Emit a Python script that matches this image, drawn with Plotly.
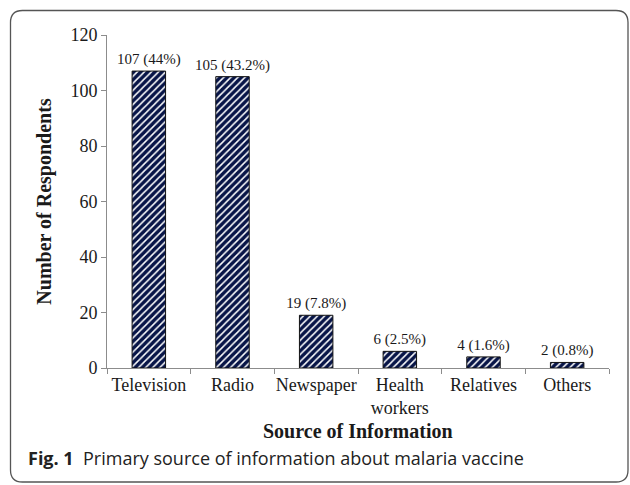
import plotly.graph_objects as go

categories = ["Television", "Radio", "Newspaper", "Health<br>workers", "Relatives", "Others"]
counts = [107, 105, 19, 6, 4, 2]
percents = ["44%", "43.2%", "7.8%", "2.5%", "1.6%", "0.8%"]
y_ticks = [0, 20, 40, 60, 80, 100, 120]

W, H = 630, 485
ML, MR, MT, MB = 107, 21, 35, 117
PW, PH = W - ML - MR, H - MT - MB

def px(x):
    return (x - ML) / PW

def py(y):
    return (H - MB - y) / PH

labels = [f"{c} ({p})" for c, p in zip(counts, percents)]

fig = go.Figure()
fig.add_trace(go.Bar(
    x=categories, y=counts, width=0.4,
    marker=dict(color="white",
                line=dict(color="#111111", width=1),
                pattern=dict(shape="/", fgcolor="#081548", bgcolor="white",
                             fgopacity=1, size=5, solidity=0.7)),
    text=labels, textposition="outside", constraintext="none", cliponaxis=False,
    textfont=dict(family="Liberation Serif", size=15, color="#1a1a1a"),
))

# rounded frame
x0, y0, x1, y1, r = 10.5, 10.5, 628, 482, 12
path = (f"M {px(x0 + r)},{py(y0)} L {px(x1 - r)},{py(y0)} "
        f"Q {px(x1)},{py(y0)} {px(x1)},{py(y0 + r)} "
        f"L {px(x1)},{py(y1 - r)} Q {px(x1)},{py(y1)} {px(x1 - r)},{py(y1)} "
        f"L {px(x0 + r)},{py(y1)} Q {px(x0)},{py(y1)} {px(x0)},{py(y1 - r)} "
        f"L {px(x0)},{py(y0 + r)} Q {px(x0)},{py(y0)} {px(x0 + r)},{py(y0)} Z")
fig.add_shape(type="path", path=path, xref="paper", yref="paper",
              line=dict(color="#555555", width=1.3), layer="below")

fig.add_annotation(text="<b>Source of Information</b>", xref="paper", yref="paper",
                   x=px(358), y=py(431), xanchor="center", yanchor="middle",
                   showarrow=False,
                   font=dict(family="Liberation Serif", size=20, color="#1a1a1a"))
fig.add_annotation(text="<b>Fig. 1</b>  Primary source of information about malaria vaccine",
                   xref="paper", yref="paper", x=px(26), y=py(458),
                   xanchor="left", yanchor="middle", showarrow=False,
                   font=dict(family="Open Sans", size=18, color="#222222"))

fig.update_layout(
    width=W, height=H, margin=dict(l=ML, r=MR, t=MT, b=MB),
    paper_bgcolor="white", plot_bgcolor="white", showlegend=False,
    bargap=0.6,
    yaxis=dict(range=[0, 120], tickvals=y_ticks, showgrid=False, zeroline=False,
               showline=True, linecolor="#8c8c8c", linewidth=1,
               ticks="outside", ticklen=5, tickcolor="#8c8c8c",
               tickfont=dict(family="Liberation Serif", size=18, color="#1a1a1a"),
               title=dict(text="<b>Number of Respondents</b>", standoff=13,
                          font=dict(family="Liberation Serif", size=20, color="#1a1a1a"))),
    xaxis=dict(showgrid=False, showline=True, linecolor="#8c8c8c", linewidth=1,
               ticks="outside", ticklen=5, tickcolor="#8c8c8c", tickson="boundaries",
               tickangle=0,
               tickfont=dict(family="Liberation Serif", size=18, color="#1a1a1a")),
)

fig.write_html("out.html")
